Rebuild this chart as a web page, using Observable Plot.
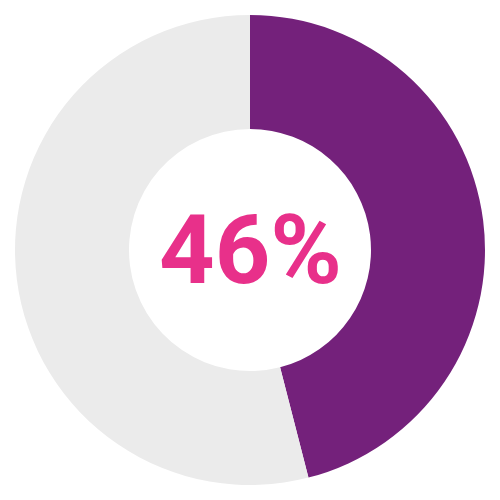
<!DOCTYPE html>
<html>
<head>
<meta charset="utf-8">
<script src="https://cdn.jsdelivr.net/npm/d3@7"></script>
<script src="https://cdn.jsdelivr.net/npm/@observablehq/plot@0.6"></script>
<style>
  html, body { margin: 0; padding: 0; background: #ffffff; }
</style>
</head>
<body>
<div id="chart"></div>
<script>
const categories = ["Share", "Rest"];
const values = [46, 54];
const sliceColors = ["#74217b", "#ebebeb"];
const centerLabel = "46%";

const data = categories.map((c, i) => ({category: c, value: values[i]}));
const pie = d3.pie().sort(null).value(d => d.value)(data);

function donut(index, scales) {
  const {x, y} = scales;
  const cx = x(0), cy = y(0);
  const outer = x(235) - x(0);
  const inner = x(121) - x(0);
  const arc = d3.arc().innerRadius(inner).outerRadius(outer);
  const color = d3.scaleOrdinal(categories, sliceColors);
  const g = d3.create("svg:g").attr("transform", `translate(${cx},${cy})`);
  g.selectAll("path")
    .data(pie)
    .join("path")
    .attr("d", arc)
    .attr("fill", d => color(d.data.category));
  return g.node();
}

const chart = Plot.plot({
  width: 500,
  height: 500,
  margin: 0,
  x: {domain: [-250, 250], range: [0, 500], axis: null},
  y: {domain: [-250, 250], range: [500, 0], axis: null},
  marks: [
    donut,
    Plot.text([centerLabel], {
      x: () => 0, y: () => 0,
      text: d => d,
      fontSize: 97,
      fontWeight: "bold",
      fontFamily: "Roboto",
      fill: "#e8308a",
      textAnchor: "middle",
      dy: 1
    })
  ]
});
document.getElementById("chart").appendChild(chart);
</script>
</body>
</html>
